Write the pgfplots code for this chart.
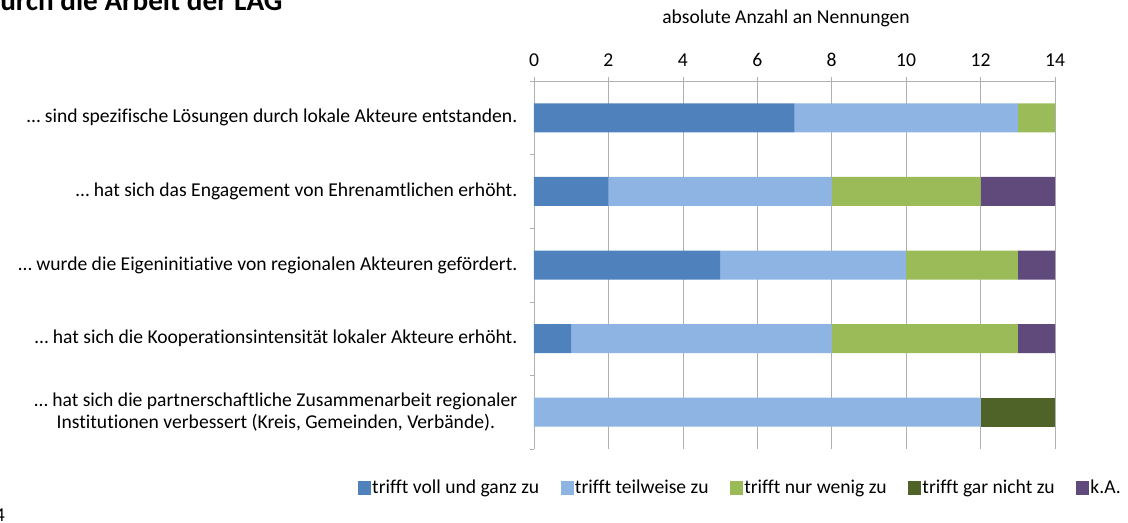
\documentclass[border=0pt]{standalone}
\usepackage{pgfplots}
\pgfplotsset{compat=1.18}
\usepackage{fontspec}
\setmainfont{Carlito}[Ligatures=NoCommon]
\definecolor{c1}{HTML}{4F81BD}
\definecolor{c2}{HTML}{8EB4E3}
\definecolor{c3}{HTML}{9BBB59}
\definecolor{c4}{HTML}{4F6228}
\definecolor{c5}{HTML}{604A7B}
\definecolor{gridc}{HTML}{B0B0B0}
\newcommand{\fs}{\fontsize{14.7}{16}\selectfont}
\begin{document}
\begin{tikzpicture}
\path[use as bounding box] (0,0) rectangle (846pt,391.5pt);
\begin{axis}[
 scale only axis, width=390.75pt, height=276pt,
 at={(400.5pt,54.75pt)}, anchor=south west,
 xbar stacked, bar width=21.75pt,
 xmin=0, xmax=14, ymin=-0.5, ymax=4.5, y dir=reverse,
 axis x line*=top, axis y line*=left,
 axis line style={gridc},
 xtick={0,2,...,14}, tick align=outside, major tick length=3pt,
 tick style={gridc, thin},
 xmajorgrids, grid style={gridc, thin},
 ytick={-0.5,0.5,...,4.5}, yticklabels={},
 extra y ticks={0,1,2,3,4},
 extra y tick labels={{… sind spezifische Lösungen durch lokale Akteure entstanden.},
   {… hat sich das Engagement von Ehrenamtlichen erhöht.},
   {… wurde die Eigeninitiative von regionalen Akteuren gefördert.},
   {… hat sich die Kooperationsintensität lokaler Akteure erhöht.},
   {… hat sich die partnerschaftliche Zusammenarbeit regionaler\\Institutionen verbessert (Kreis, Gemeinden, Verbände).}},
 extra y tick style={major tick length=0pt, grid=none, yticklabel style={xshift=-9pt}},
 yticklabel style={align=center, font=\fs},
 xticklabel style={font=\fs, yshift=4pt},
 /pgf/number format/assume math mode=true,
 legend columns=5,
 legend style={at={(0.3954,-0.106)}, anchor=center, draw=none, fill=none,
   font=\fs,
   nodes={inner sep=1pt},
   /tikz/every even column/.append style={column sep=15pt}},
 legend image code/.code={\fill[#1] (0pt,-4.9pt) rectangle (9.75pt,4.9pt);},
]
\addplot[fill=c1, draw=none] coordinates {(7,0) (2,1) (5,2) (1,3) (0,4)};
\addplot[fill=c2, draw=none] coordinates {(6,0) (6,1) (5,2) (7,3) (12,4)};
\addplot[fill=c3, draw=none] coordinates {(1,0) (4,1) (3,2) (5,3) (0,4)};
\addplot[fill=c4, draw=none] coordinates {(0,0) (0,1) (0,2) (0,3) (2,4)};
\addplot[fill=c5, draw=none] coordinates {(0,0) (2,1) (1,2) (1,3) (0,4)};
\legend{trifft voll und ganz zu, trifft teilweise zu, trifft nur wenig zu, trifft gar nicht zu, k.A.}
\end{axis}
\node[font=\fs] at (589.5pt,378pt) {absolute Anzahl an Nennungen};
\node[anchor=base west, inner sep=0pt, font=\bfseries\fontsize{21.9}{24}\selectfont] at (0pt,383.25pt) {urch die Arbeit der LAG};
\node[anchor=base west, inner sep=0pt, font=\fs] at (-4pt,0.5pt) {4};
\end{tikzpicture}
\end{document}
